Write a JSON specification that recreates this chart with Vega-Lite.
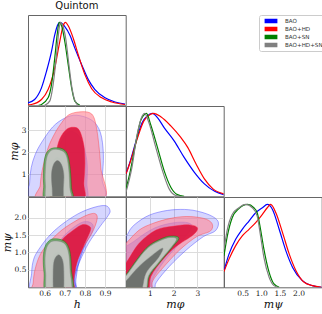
{
"$schema":"https://vega.github.io/schema/vega-lite/v6.json",
"padding":{"left":0,"top":0,"right":0,"bottom":0},
"columns":3,"spacing":0,"bounds":"flush",
"datasets":{
"d_h":[
{"set":"BAO","h":0.517,"d":0.03},{"set":"BAO","h":0.55,"d":0.07},{"set":"BAO","h":0.584,"d":0.21},{"set":"BAO","h":0.609,"d":0.41},{"set":"BAO","h":0.634,"d":0.65},{"set":"BAO","h":0.65,"d":0.85},{"set":"BAO","h":0.667,"d":0.98},{"set":"BAO","h":0.676,"d":1.0},{"set":"BAO","h":0.7,"d":0.95},{"set":"BAO","h":0.725,"d":0.85},{"set":"BAO","h":0.75,"d":0.69},{"set":"BAO","h":0.784,"d":0.49},{"set":"BAO","h":0.817,"d":0.31},{"set":"BAO","h":0.85,"d":0.19},{"set":"BAO","h":0.9,"d":0.09},{"set":"BAO","h":0.95,"d":0.04},{"set":"BAO","h":1.0,"d":0.016},
{"set":"BAO+HD","h":0.517,"d":0.005},{"set":"BAO+HD","h":0.534,"d":0.01},{"set":"BAO+HD","h":0.584,"d":0.07},{"set":"BAO+HD","h":0.617,"d":0.19},{"set":"BAO+HD","h":0.65,"d":0.45},{"set":"BAO+HD","h":0.675,"d":0.77},{"set":"BAO+HD","h":0.692,"d":0.96},{"set":"BAO+HD","h":0.703,"d":1.0},{"set":"BAO+HD","h":0.717,"d":0.96},{"set":"BAO+HD","h":0.742,"d":0.81},{"set":"BAO+HD","h":0.767,"d":0.61},{"set":"BAO+HD","h":0.8,"d":0.37},{"set":"BAO+HD","h":0.834,"d":0.2},{"set":"BAO+HD","h":0.884,"d":0.09},{"set":"BAO+HD","h":0.934,"d":0.04},{"set":"BAO+HD","h":1.0,"d":0.01},
{"set":"BAO+SN","h":0.57,"d":0.0},{"set":"BAO+SN","h":0.584,"d":0.01},{"set":"BAO+SN","h":0.617,"d":0.09},{"set":"BAO+SN","h":0.634,"d":0.25},{"set":"BAO+SN","h":0.65,"d":0.57},{"set":"BAO+SN","h":0.662,"d":0.85},{"set":"BAO+SN","h":0.672,"d":1.0},{"set":"BAO+SN","h":0.684,"d":0.96},{"set":"BAO+SN","h":0.7,"d":0.77},{"set":"BAO+SN","h":0.717,"d":0.49},{"set":"BAO+SN","h":0.734,"d":0.21},{"set":"BAO+SN","h":0.75,"d":0.05},{"set":"BAO+SN","h":0.775,"d":0.0},
{"set":"BAO+HD+SN","h":0.6,"d":0.0},{"set":"BAO+HD+SN","h":0.625,"d":0.05},{"set":"BAO+HD+SN","h":0.642,"d":0.25},{"set":"BAO+HD+SN","h":0.659,"d":0.61},{"set":"BAO+HD+SN","h":0.67,"d":0.89},{"set":"BAO+HD+SN","h":0.678,"d":1.0},{"set":"BAO+HD+SN","h":0.69,"d":0.96},{"set":"BAO+HD+SN","h":0.705,"d":0.8},{"set":"BAO+HD+SN","h":0.72,"d":0.5},{"set":"BAO+HD+SN","h":0.735,"d":0.22},{"set":"BAO+HD+SN","h":0.75,"d":0.06},{"set":"BAO+HD+SN","h":0.767,"d":0.0}
],
"d_phi":[
{"set":"BAO","mphi":0,"d":0.27},{"set":"BAO","mphi":0.185,"d":0.43},{"set":"BAO","mphi":0.467,"d":0.71},{"set":"BAO","mphi":0.68,"d":0.89},{"set":"BAO","mphi":0.89,"d":0.97},{"set":"BAO","mphi":1.1,"d":1.0},{"set":"BAO","mphi":1.32,"d":0.95},{"set":"BAO","mphi":1.6,"d":0.83},{"set":"BAO","mphi":2.02,"d":0.67},{"set":"BAO","mphi":2.44,"d":0.47},{"set":"BAO","mphi":2.87,"d":0.29},{"set":"BAO","mphi":3.29,"d":0.15},{"set":"BAO","mphi":3.72,"d":0.06},{"set":"BAO","mphi":4.1,"d":0.02},
{"set":"BAO+HD","mphi":0,"d":0.27},{"set":"BAO+HD","mphi":0.185,"d":0.42},{"set":"BAO+HD","mphi":0.467,"d":0.69},{"set":"BAO+HD","mphi":0.75,"d":0.91},{"set":"BAO+HD","mphi":1.0,"d":0.985},{"set":"BAO+HD","mphi":1.17,"d":1.0},{"set":"BAO+HD","mphi":1.46,"d":0.96},{"set":"BAO+HD","mphi":1.88,"d":0.85},{"set":"BAO+HD","mphi":2.3,"d":0.71},{"set":"BAO+HD","mphi":2.59,"d":0.59},{"set":"BAO+HD","mphi":2.94,"d":0.39},{"set":"BAO+HD","mphi":3.29,"d":0.21},{"set":"BAO+HD","mphi":3.65,"d":0.09},{"set":"BAO+HD","mphi":4.1,"d":0.03},
{"set":"BAO+SN","mphi":0,"d":0.09},{"set":"BAO+SN","mphi":0.185,"d":0.31},{"set":"BAO+SN","mphi":0.4,"d":0.63},{"set":"BAO+SN","mphi":0.61,"d":0.91},{"set":"BAO+SN","mphi":0.78,"d":0.99},{"set":"BAO+SN","mphi":0.86,"d":1.0},{"set":"BAO+SN","mphi":1.03,"d":0.87},{"set":"BAO+SN","mphi":1.32,"d":0.59},{"set":"BAO+SN","mphi":1.6,"d":0.31},{"set":"BAO+SN","mphi":1.88,"d":0.11},{"set":"BAO+SN","mphi":2.16,"d":0.02},{"set":"BAO+SN","mphi":2.44,"d":0.0},
{"set":"BAO+HD+SN","mphi":0,"d":0.05},{"set":"BAO+HD+SN","mphi":0.25,"d":0.35},{"set":"BAO+HD+SN","mphi":0.47,"d":0.75},{"set":"BAO+HD+SN","mphi":0.68,"d":0.97},{"set":"BAO+HD+SN","mphi":0.78,"d":1.0},{"set":"BAO+HD+SN","mphi":0.96,"d":0.89},{"set":"BAO+HD+SN","mphi":1.25,"d":0.59},{"set":"BAO+HD+SN","mphi":1.53,"d":0.31},{"set":"BAO+HD+SN","mphi":1.81,"d":0.09},{"set":"BAO+HD+SN","mphi":2.09,"d":0.01},{"set":"BAO+HD+SN","mphi":2.3,"d":0.0}
],
"d_psi":[
{"set":"BAO","mpsi":0,"d":0.2},{"set":"BAO","mpsi":0.134,"d":0.4},{"set":"BAO","mpsi":0.313,"d":0.58},{"set":"BAO","mpsi":0.49,"d":0.7},{"set":"BAO","mpsi":0.67,"d":0.8},{"set":"BAO","mpsi":0.85,"d":0.9},{"set":"BAO","mpsi":1.03,"d":0.96},{"set":"BAO","mpsi":1.16,"d":1.0},{"set":"BAO","mpsi":1.3,"d":0.94},{"set":"BAO","mpsi":1.48,"d":0.7},{"set":"BAO","mpsi":1.66,"d":0.44},{"set":"BAO","mpsi":1.84,"d":0.24},{"set":"BAO","mpsi":2.1,"d":0.08},{"set":"BAO","mpsi":2.37,"d":0.02},{"set":"BAO","mpsi":2.62,"d":0.0},
{"set":"BAO+HD","mpsi":0,"d":0.19},{"set":"BAO+HD","mpsi":0.134,"d":0.34},{"set":"BAO+HD","mpsi":0.31,"d":0.5},{"set":"BAO+HD","mpsi":0.49,"d":0.62},{"set":"BAO+HD","mpsi":0.67,"d":0.7},{"set":"BAO+HD","mpsi":0.85,"d":0.78},{"set":"BAO+HD","mpsi":1.03,"d":0.88},{"set":"BAO+HD","mpsi":1.16,"d":0.96},{"set":"BAO+HD","mpsi":1.25,"d":1.0},{"set":"BAO+HD","mpsi":1.39,"d":0.9},{"set":"BAO+HD","mpsi":1.57,"d":0.66},{"set":"BAO+HD","mpsi":1.75,"d":0.4},{"set":"BAO+HD","mpsi":1.93,"d":0.2},{"set":"BAO+HD","mpsi":2.15,"d":0.06},{"set":"BAO+HD","mpsi":2.37,"d":0.02},{"set":"BAO+HD","mpsi":2.62,"d":0.0},
{"set":"BAO+SN","mpsi":0,"d":0.38},{"set":"BAO+SN","mpsi":0.09,"d":0.62},{"set":"BAO+SN","mpsi":0.22,"d":0.84},{"set":"BAO+SN","mpsi":0.4,"d":0.95},{"set":"BAO+SN","mpsi":0.63,"d":1.0},{"set":"BAO+SN","mpsi":0.8,"d":0.96},{"set":"BAO+SN","mpsi":0.89,"d":0.9},{"set":"BAO+SN","mpsi":0.98,"d":0.7},{"set":"BAO+SN","mpsi":1.07,"d":0.46},{"set":"BAO+SN","mpsi":1.21,"d":0.18},{"set":"BAO+SN","mpsi":1.34,"d":0.04},{"set":"BAO+SN","mpsi":1.48,"d":0.0},
{"set":"BAO+HD+SN","mpsi":0,"d":0.46},{"set":"BAO+HD+SN","mpsi":0.09,"d":0.7},{"set":"BAO+HD+SN","mpsi":0.22,"d":0.88},{"set":"BAO+HD+SN","mpsi":0.4,"d":0.96},{"set":"BAO+HD+SN","mpsi":0.58,"d":1.0},{"set":"BAO+HD+SN","mpsi":0.76,"d":0.96},{"set":"BAO+HD+SN","mpsi":0.89,"d":0.86},{"set":"BAO+HD+SN","mpsi":0.98,"d":0.62},{"set":"BAO+HD+SN","mpsi":1.07,"d":0.36},{"set":"BAO+HD+SN","mpsi":1.21,"d":0.12},{"set":"BAO+HD+SN","mpsi":1.34,"d":0.02},{"set":"BAO+HD+SN","mpsi":1.45,"d":0.0}
],
"c_hphi":[
{"k":"BAO 95","i":0,"h":0.53,"mphi":-0.2},{"k":"BAO 95","i":1,"h":0.525,"mphi":0.6},{"k":"BAO 95","i":2,"h":0.533,"mphi":1.3},{"k":"BAO 95","i":3,"h":0.553,"mphi":1.9},{"k":"BAO 95","i":4,"h":0.585,"mphi":2.45},{"k":"BAO 95","i":5,"h":0.64,"mphi":3.15},{"k":"BAO 95","i":6,"h":0.7,"mphi":3.55},{"k":"BAO 95","i":7,"h":0.76,"mphi":3.68},{"k":"BAO 95","i":8,"h":0.835,"mphi":3.45},{"k":"BAO 95","i":9,"h":0.877,"mphi":2.9},{"k":"BAO 95","i":10,"h":0.892,"mphi":1.9},{"k":"BAO 95","i":11,"h":0.886,"mphi":0.8},{"k":"BAO 95","i":12,"h":0.878,"mphi":-0.2},
{"k":"BAO 68","i":0,"h":0.63,"mphi":-0.2},{"k":"BAO 68","i":1,"h":0.64,"mphi":1.0},{"k":"BAO 68","i":2,"h":0.67,"mphi":2.2},{"k":"BAO 68","i":3,"h":0.71,"mphi":2.85},{"k":"BAO 68","i":4,"h":0.75,"mphi":2.9},{"k":"BAO 68","i":5,"h":0.785,"mphi":2.5},{"k":"BAO 68","i":6,"h":0.81,"mphi":1.6},{"k":"BAO 68","i":7,"h":0.81,"mphi":0.6},{"k":"BAO 68","i":8,"h":0.8,"mphi":-0.2},
{"k":"BAO+HD 95","i":0,"h":0.575,"mphi":-0.2},{"k":"BAO+HD 95","i":1,"h":0.578,"mphi":0.5},{"k":"BAO+HD 95","i":2,"h":0.587,"mphi":1.15},{"k":"BAO+HD 95","i":3,"h":0.615,"mphi":2.15},{"k":"BAO+HD 95","i":4,"h":0.65,"mphi":2.85},{"k":"BAO+HD 95","i":5,"h":0.685,"mphi":3.35},{"k":"BAO+HD 95","i":6,"h":0.72,"mphi":3.7},{"k":"BAO+HD 95","i":7,"h":0.77,"mphi":3.83},{"k":"BAO+HD 95","i":8,"h":0.822,"mphi":3.8},{"k":"BAO+HD 95","i":9,"h":0.848,"mphi":3.5},{"k":"BAO+HD 95","i":10,"h":0.866,"mphi":2.6},{"k":"BAO+HD 95","i":11,"h":0.879,"mphi":1.3},{"k":"BAO+HD 95","i":12,"h":0.886,"mphi":-0.2},
{"k":"BAO+HD 68","i":0,"h":0.635,"mphi":-0.2},{"k":"BAO+HD 68","i":1,"h":0.64,"mphi":1.0},{"k":"BAO+HD 68","i":2,"h":0.655,"mphi":1.9},{"k":"BAO+HD 68","i":3,"h":0.675,"mphi":2.6},{"k":"BAO+HD 68","i":4,"h":0.71,"mphi":3.05},{"k":"BAO+HD 68","i":5,"h":0.75,"mphi":3.13},{"k":"BAO+HD 68","i":6,"h":0.775,"mphi":2.95},{"k":"BAO+HD 68","i":7,"h":0.795,"mphi":2.3},{"k":"BAO+HD 68","i":8,"h":0.8,"mphi":1.5},{"k":"BAO+HD 68","i":9,"h":0.795,"mphi":0.6},{"k":"BAO+HD 68","i":10,"h":0.79,"mphi":-0.2},
{"k":"BAO+SN 95","i":0,"h":0.605,"mphi":-0.2},{"k":"BAO+SN 95","i":1,"h":0.595,"mphi":0.5},{"k":"BAO+SN 95","i":2,"h":0.594,"mphi":1.1},{"k":"BAO+SN 95","i":3,"h":0.602,"mphi":1.8},{"k":"BAO+SN 95","i":4,"h":0.625,"mphi":2.13},{"k":"BAO+SN 95","i":5,"h":0.66,"mphi":2.2},{"k":"BAO+SN 95","i":6,"h":0.695,"mphi":2.12},{"k":"BAO+SN 95","i":7,"h":0.715,"mphi":1.85},{"k":"BAO+SN 95","i":8,"h":0.727,"mphi":1.25},{"k":"BAO+SN 95","i":9,"h":0.733,"mphi":0.4},{"k":"BAO+SN 95","i":10,"h":0.735,"mphi":-0.2},
{"k":"BAO+SN 68","i":0,"h":0.635,"mphi":-0.2},{"k":"BAO+SN 68","i":1,"h":0.632,"mphi":0.8},{"k":"BAO+SN 68","i":2,"h":0.645,"mphi":1.6},{"k":"BAO+SN 68","i":3,"h":0.667,"mphi":1.75},{"k":"BAO+SN 68","i":4,"h":0.69,"mphi":1.5},{"k":"BAO+SN 68","i":5,"h":0.7,"mphi":0.8},{"k":"BAO+SN 68","i":6,"h":0.695,"mphi":-0.2},
{"k":"BAO+HD+SN 95","i":0,"h":0.615,"mphi":-0.2},{"k":"BAO+HD+SN 95","i":1,"h":0.604,"mphi":0.5},{"k":"BAO+HD+SN 95","i":2,"h":0.603,"mphi":1.1},{"k":"BAO+HD+SN 95","i":3,"h":0.61,"mphi":1.75},{"k":"BAO+HD+SN 95","i":4,"h":0.63,"mphi":2.07},{"k":"BAO+HD+SN 95","i":5,"h":0.662,"mphi":2.13},{"k":"BAO+HD+SN 95","i":6,"h":0.693,"mphi":2.03},{"k":"BAO+HD+SN 95","i":7,"h":0.71,"mphi":1.78},{"k":"BAO+HD+SN 95","i":8,"h":0.72,"mphi":1.2},{"k":"BAO+HD+SN 95","i":9,"h":0.725,"mphi":0.4},{"k":"BAO+HD+SN 95","i":10,"h":0.727,"mphi":-0.2},
{"k":"BAO+HD+SN 68","i":0,"h":0.645,"mphi":-0.2},{"k":"BAO+HD+SN 68","i":1,"h":0.637,"mphi":0.4},{"k":"BAO+HD+SN 68","i":2,"h":0.634,"mphi":1.0},{"k":"BAO+HD+SN 68","i":3,"h":0.643,"mphi":1.42},{"k":"BAO+HD+SN 68","i":4,"h":0.662,"mphi":1.62},{"k":"BAO+HD+SN 68","i":5,"h":0.683,"mphi":1.45},{"k":"BAO+HD+SN 68","i":6,"h":0.695,"mphi":1.0},{"k":"BAO+HD+SN 68","i":7,"h":0.693,"mphi":0.4},{"k":"BAO+HD+SN 68","i":8,"h":0.688,"mphi":-0.2}
],
"c_hpsi":[
{"k":"BAO 95","i":0,"h":0.54,"mpsi":-0.2},{"k":"BAO 95","i":1,"h":0.535,"mpsi":0.4},{"k":"BAO 95","i":2,"h":0.545,"mpsi":0.8},{"k":"BAO 95","i":3,"h":0.57,"mpsi":1.08},{"k":"BAO 95","i":4,"h":0.62,"mpsi":1.46},{"k":"BAO 95","i":5,"h":0.685,"mpsi":1.8},{"k":"BAO 95","i":6,"h":0.77,"mpsi":2.12},{"k":"BAO 95","i":7,"h":0.85,"mpsi":2.3},{"k":"BAO 95","i":8,"h":0.905,"mpsi":2.34},{"k":"BAO 95","i":9,"h":0.925,"mpsi":2.2},{"k":"BAO 95","i":10,"h":0.915,"mpsi":2.05},{"k":"BAO 95","i":11,"h":0.875,"mpsi":1.74},{"k":"BAO 95","i":12,"h":0.818,"mpsi":1.26},{"k":"BAO 95","i":13,"h":0.775,"mpsi":0.75},{"k":"BAO 95","i":14,"h":0.748,"mpsi":0.3},{"k":"BAO 95","i":15,"h":0.74,"mpsi":-0.2},
{"k":"BAO 68","i":0,"h":0.62,"mpsi":-0.2},{"k":"BAO 68","i":1,"h":0.62,"mpsi":0.5},{"k":"BAO 68","i":2,"h":0.64,"mpsi":1.0},{"k":"BAO 68","i":3,"h":0.7,"mpsi":1.5},{"k":"BAO 68","i":4,"h":0.78,"mpsi":1.85},{"k":"BAO 68","i":5,"h":0.83,"mpsi":1.85},{"k":"BAO 68","i":6,"h":0.84,"mpsi":1.65},{"k":"BAO 68","i":7,"h":0.8,"mpsi":1.2},{"k":"BAO 68","i":8,"h":0.77,"mpsi":0.7},{"k":"BAO 68","i":9,"h":0.755,"mpsi":0.2},{"k":"BAO 68","i":10,"h":0.75,"mpsi":-0.2},
{"k":"BAO+HD 95","i":0,"h":0.545,"mpsi":-0.2},{"k":"BAO+HD 95","i":1,"h":0.543,"mpsi":0.13},{"k":"BAO+HD 95","i":2,"h":0.552,"mpsi":0.51},{"k":"BAO+HD 95","i":3,"h":0.577,"mpsi":0.93},{"k":"BAO+HD 95","i":4,"h":0.618,"mpsi":1.26},{"k":"BAO+HD 95","i":5,"h":0.685,"mpsi":1.64},{"k":"BAO+HD 95","i":6,"h":0.768,"mpsi":1.95},{"k":"BAO+HD 95","i":7,"h":0.825,"mpsi":2.1},{"k":"BAO+HD 95","i":8,"h":0.855,"mpsi":2.1},{"k":"BAO+HD 95","i":9,"h":0.86,"mpsi":1.93},{"k":"BAO+HD 95","i":10,"h":0.835,"mpsi":1.55},{"k":"BAO+HD 95","i":11,"h":0.785,"mpsi":1.08},{"k":"BAO+HD 95","i":12,"h":0.752,"mpsi":0.6},{"k":"BAO+HD 95","i":13,"h":0.738,"mpsi":0.1},{"k":"BAO+HD 95","i":14,"h":0.735,"mpsi":-0.2},
{"k":"BAO+HD 68","i":0,"h":0.62,"mpsi":-0.2},{"k":"BAO+HD 68","i":1,"h":0.62,"mpsi":0.5},{"k":"BAO+HD 68","i":2,"h":0.64,"mpsi":1.0},{"k":"BAO+HD 68","i":3,"h":0.685,"mpsi":1.36},{"k":"BAO+HD 68","i":4,"h":0.745,"mpsi":1.65},{"k":"BAO+HD 68","i":5,"h":0.79,"mpsi":1.8},{"k":"BAO+HD 68","i":6,"h":0.822,"mpsi":1.75},{"k":"BAO+HD 68","i":7,"h":0.827,"mpsi":1.62},{"k":"BAO+HD 68","i":8,"h":0.793,"mpsi":1.17},{"k":"BAO+HD 68","i":9,"h":0.76,"mpsi":0.7},{"k":"BAO+HD 68","i":10,"h":0.745,"mpsi":0.2},{"k":"BAO+HD 68","i":11,"h":0.742,"mpsi":-0.2},
{"k":"BAO+SN 95","i":0,"h":0.61,"mpsi":-0.2},{"k":"BAO+SN 95","i":1,"h":0.597,"mpsi":0.4},{"k":"BAO+SN 95","i":2,"h":0.593,"mpsi":0.84},{"k":"BAO+SN 95","i":3,"h":0.602,"mpsi":1.17},{"k":"BAO+SN 95","i":4,"h":0.625,"mpsi":1.35},{"k":"BAO+SN 95","i":5,"h":0.652,"mpsi":1.39},{"k":"BAO+SN 95","i":6,"h":0.685,"mpsi":1.36},{"k":"BAO+SN 95","i":7,"h":0.71,"mpsi":1.25},{"k":"BAO+SN 95","i":8,"h":0.727,"mpsi":0.98},{"k":"BAO+SN 95","i":9,"h":0.733,"mpsi":0.5},{"k":"BAO+SN 95","i":10,"h":0.736,"mpsi":-0.2},
{"k":"BAO+SN 68","i":0,"h":0.64,"mpsi":-0.2},{"k":"BAO+SN 68","i":1,"h":0.635,"mpsi":0.5},{"k":"BAO+SN 68","i":2,"h":0.645,"mpsi":0.9},{"k":"BAO+SN 68","i":3,"h":0.668,"mpsi":1.0},{"k":"BAO+SN 68","i":4,"h":0.69,"mpsi":0.85},{"k":"BAO+SN 68","i":5,"h":0.7,"mpsi":0.4},{"k":"BAO+SN 68","i":6,"h":0.695,"mpsi":-0.2},
{"k":"BAO+HD+SN 95","i":0,"h":0.618,"mpsi":-0.2},{"k":"BAO+HD+SN 95","i":1,"h":0.605,"mpsi":0.4},{"k":"BAO+HD+SN 95","i":2,"h":0.602,"mpsi":0.84},{"k":"BAO+HD+SN 95","i":3,"h":0.61,"mpsi":1.14},{"k":"BAO+HD+SN 95","i":4,"h":0.63,"mpsi":1.3},{"k":"BAO+HD+SN 95","i":5,"h":0.655,"mpsi":1.33},{"k":"BAO+HD+SN 95","i":6,"h":0.685,"mpsi":1.3},{"k":"BAO+HD+SN 95","i":7,"h":0.706,"mpsi":1.2},{"k":"BAO+HD+SN 95","i":8,"h":0.72,"mpsi":0.95},{"k":"BAO+HD+SN 95","i":9,"h":0.726,"mpsi":0.5},{"k":"BAO+HD+SN 95","i":10,"h":0.728,"mpsi":-0.2},
{"k":"BAO+HD+SN 68","i":0,"h":0.648,"mpsi":-0.2},{"k":"BAO+HD+SN 68","i":1,"h":0.642,"mpsi":0.4},{"k":"BAO+HD+SN 68","i":2,"h":0.648,"mpsi":0.78},{"k":"BAO+HD+SN 68","i":3,"h":0.668,"mpsi":0.93},{"k":"BAO+HD+SN 68","i":4,"h":0.688,"mpsi":0.8},{"k":"BAO+HD+SN 68","i":5,"h":0.695,"mpsi":0.45},{"k":"BAO+HD+SN 68","i":6,"h":0.69,"mpsi":-0.2}
],
"c_phipsi":[
{"k":"BAO 95","i":0,"mphi":-0.3,"mpsi":-0.2},{"k":"BAO 95","i":1,"mphi":-0.3,"mpsi":1.25},{"k":"BAO 95","i":2,"mphi":0.0,"mpsi":1.45},{"k":"BAO 95","i":3,"mphi":0.27,"mpsi":1.74},{"k":"BAO 95","i":4,"mphi":0.83,"mpsi":2.02},{"k":"BAO 95","i":5,"mphi":1.4,"mpsi":2.16},{"k":"BAO 95","i":6,"mphi":2.1,"mpsi":2.23},{"k":"BAO 95","i":7,"mphi":2.81,"mpsi":2.21},{"k":"BAO 95","i":8,"mphi":3.52,"mpsi":2.07},{"k":"BAO 95","i":9,"mphi":3.87,"mpsi":1.88},{"k":"BAO 95","i":10,"mphi":3.75,"mpsi":1.62},{"k":"BAO 95","i":11,"mphi":3.24,"mpsi":1.45},{"k":"BAO 95","i":12,"mphi":2.53,"mpsi":1.07},{"k":"BAO 95","i":13,"mphi":1.82,"mpsi":0.6},{"k":"BAO 95","i":14,"mphi":1.26,"mpsi":0.13},{"k":"BAO 95","i":15,"mphi":1.1,"mpsi":-0.2},
{"k":"BAO 68","i":0,"mphi":-0.3,"mpsi":-0.2},{"k":"BAO 68","i":1,"mphi":-0.3,"mpsi":0.9},{"k":"BAO 68","i":2,"mphi":0.4,"mpsi":1.35},{"k":"BAO 68","i":3,"mphi":1.2,"mpsi":1.7},{"k":"BAO 68","i":4,"mphi":2.0,"mpsi":1.85},{"k":"BAO 68","i":5,"mphi":2.6,"mpsi":1.85},{"k":"BAO 68","i":6,"mphi":2.75,"mpsi":1.7},{"k":"BAO 68","i":7,"mphi":2.3,"mpsi":1.3},{"k":"BAO 68","i":8,"mphi":1.6,"mpsi":0.75},{"k":"BAO 68","i":9,"mphi":1.1,"mpsi":0.2},{"k":"BAO 68","i":10,"mphi":1.0,"mpsi":-0.2},
{"k":"BAO+HD 95","i":0,"mphi":-0.3,"mpsi":-0.2},{"k":"BAO+HD 95","i":1,"mphi":-0.3,"mpsi":1.05},{"k":"BAO+HD 95","i":2,"mphi":0.0,"mpsi":1.26},{"k":"BAO+HD 95","i":3,"mphi":0.55,"mpsi":1.64},{"k":"BAO+HD 95","i":4,"mphi":1.12,"mpsi":1.83},{"k":"BAO+HD 95","i":5,"mphi":1.82,"mpsi":1.97},{"k":"BAO+HD 95","i":6,"mphi":2.53,"mpsi":2.03},{"k":"BAO+HD 95","i":7,"mphi":3.24,"mpsi":1.98},{"k":"BAO+HD 95","i":8,"mphi":3.6,"mpsi":1.84},{"k":"BAO+HD 95","i":9,"mphi":3.55,"mpsi":1.62},{"k":"BAO+HD 95","i":10,"mphi":2.96,"mpsi":1.45},{"k":"BAO+HD 95","i":11,"mphi":2.25,"mpsi":1.07},{"k":"BAO+HD 95","i":12,"mphi":1.54,"mpsi":0.55},{"k":"BAO+HD 95","i":13,"mphi":1.12,"mpsi":0.18},{"k":"BAO+HD 95","i":14,"mphi":0.98,"mpsi":-0.2},
{"k":"BAO+HD 68","i":0,"mphi":-0.3,"mpsi":-0.2},{"k":"BAO+HD 68","i":1,"mphi":-0.3,"mpsi":0.55},{"k":"BAO+HD 68","i":2,"mphi":0.0,"mpsi":0.7},{"k":"BAO+HD 68","i":3,"mphi":0.55,"mpsi":1.26},{"k":"BAO+HD 68","i":4,"mphi":1.26,"mpsi":1.64},{"k":"BAO+HD 68","i":5,"mphi":1.97,"mpsi":1.75},{"k":"BAO+HD 68","i":6,"mphi":2.67,"mpsi":1.79},{"k":"BAO+HD 68","i":7,"mphi":3.0,"mpsi":1.7},{"k":"BAO+HD 68","i":8,"mphi":2.81,"mpsi":1.5},{"k":"BAO+HD 68","i":9,"mphi":2.1,"mpsi":1.17},{"k":"BAO+HD 68","i":10,"mphi":1.54,"mpsi":0.79},{"k":"BAO+HD 68","i":11,"mphi":1.05,"mpsi":0.32},{"k":"BAO+HD 68","i":12,"mphi":0.84,"mpsi":-0.2},
{"k":"BAO+SN 95","i":0,"mphi":-0.3,"mpsi":-0.2},{"k":"BAO+SN 95","i":1,"mphi":-0.3,"mpsi":0.1},{"k":"BAO+SN 95","i":2,"mphi":0.0,"mpsi":0.36},{"k":"BAO+SN 95","i":3,"mphi":0.84,"mpsi":1.12},{"k":"BAO+SN 95","i":4,"mphi":1.54,"mpsi":1.41},{"k":"BAO+SN 95","i":5,"mphi":2.0,"mpsi":1.47},{"k":"BAO+SN 95","i":6,"mphi":2.22,"mpsi":1.4},{"k":"BAO+SN 95","i":7,"mphi":1.97,"mpsi":1.17},{"k":"BAO+SN 95","i":8,"mphi":1.4,"mpsi":0.7},{"k":"BAO+SN 95","i":9,"mphi":0.98,"mpsi":0.32},{"k":"BAO+SN 95","i":10,"mphi":0.77,"mpsi":-0.2},
{"k":"BAO+SN 68","i":0,"mphi":-0.3,"mpsi":-0.2},{"k":"BAO+SN 68","i":1,"mphi":-0.3,"mpsi":0.0},{"k":"BAO+SN 68","i":2,"mphi":0.55,"mpsi":0.62},{"k":"BAO+SN 68","i":3,"mphi":1.12,"mpsi":0.96},{"k":"BAO+SN 68","i":4,"mphi":1.55,"mpsi":1.14},{"k":"BAO+SN 68","i":5,"mphi":1.4,"mpsi":0.86},{"k":"BAO+SN 68","i":6,"mphi":0.84,"mpsi":0.4},{"k":"BAO+SN 68","i":7,"mphi":0.55,"mpsi":-0.2},
{"k":"BAO+HD+SN 95","i":0,"mphi":-0.3,"mpsi":-0.2},{"k":"BAO+HD+SN 95","i":1,"mphi":-0.3,"mpsi":0.1},{"k":"BAO+HD+SN 95","i":2,"mphi":0.0,"mpsi":0.33},{"k":"BAO+HD+SN 95","i":3,"mphi":0.84,"mpsi":1.08},{"k":"BAO+HD+SN 95","i":4,"mphi":1.54,"mpsi":1.37},{"k":"BAO+HD+SN 95","i":5,"mphi":1.95,"mpsi":1.43},{"k":"BAO+HD+SN 95","i":6,"mphi":2.12,"mpsi":1.37},{"k":"BAO+HD+SN 95","i":7,"mphi":1.9,"mpsi":1.15},{"k":"BAO+HD+SN 95","i":8,"mphi":1.35,"mpsi":0.7},{"k":"BAO+HD+SN 95","i":9,"mphi":0.95,"mpsi":0.33},{"k":"BAO+HD+SN 95","i":10,"mphi":0.74,"mpsi":-0.2},
{"k":"BAO+HD+SN 68","i":0,"mphi":-0.3,"mpsi":-0.2},{"k":"BAO+HD+SN 68","i":1,"mphi":-0.3,"mpsi":-0.05},{"k":"BAO+HD+SN 68","i":2,"mphi":0.0,"mpsi":0.18},{"k":"BAO+HD+SN 68","i":3,"mphi":0.55,"mpsi":0.6},{"k":"BAO+HD+SN 68","i":4,"mphi":1.12,"mpsi":0.93},{"k":"BAO+HD+SN 68","i":5,"mphi":1.54,"mpsi":1.12},{"k":"BAO+HD+SN 68","i":6,"mphi":1.35,"mpsi":0.84},{"k":"BAO+HD+SN 68","i":7,"mphi":0.84,"mpsi":0.41},{"k":"BAO+HD+SN 68","i":8,"mphi":0.55,"mpsi":-0.2}
]
},
"concat":[
{"width":97.7,"height":90.3,"title":"Quintom","data":{"name":"d_h"},
 "mark":{"type":"line","interpolate":"monotone","strokeWidth":1.2,"clip":true},
 "encoding":{
  "x":{"field":"h","type":"quantitative","scale":{"domain":[0.517,1.003],"nice":false,"zero":false},"axis":null},
  "y":{"field":"d","type":"quantitative","scale":{"domain":[0,1.09],"nice":false},"axis":null},
  "color":{"field":"set","type":"nominal","scale":{"domain":["BAO","BAO+HD","BAO+SN","BAO+HD+SN"],"range":["#0000ff","#ff0000","#008000","#808080"]},"legend":{"orient":"none","legendX":231,"legendY":0,"title":null,"clipHeight":8,"rowPadding":0,"symbolSize":64,"symbolStrokeWidth":4.5,"symbolType":"M-1.6,0H1.6","symbolOffset":3.5,"labelOffset":7.5,"labelFontSize":5.6}}}},
{"width":97.7,"height":90.3,"view":{"stroke":null},"data":{"values":[]},"mark":"point"},
{"width":97.7,"height":90.3,"view":{"stroke":null},"data":{"values":[]},"mark":"point"},
{"width":97.7,"height":90.3,"data":{"name":"c_hphi"},
 "mark":{"type":"line","interpolate":"cardinal-closed","clip":true,"strokeWidth":0.8,"strokeOpacity":0.55},
 "encoding":{
  "x":{"field":"h","type":"quantitative","scale":{"domain":[0.517,1.003],"nice":false,"zero":false},"axis":{"values":[0.6,0.7,0.8,0.9],"labels":false,"title":null}},
  "y":{"field":"mphi","type":"quantitative","scale":{"domain":[0,4.1],"nice":false},"axis":{"values":[1,2,3],"title":"mφ"}},
  "order":{"field":"i","type":"quantitative"},
  "fill":{"field":"k","type":"nominal","scale":{"domain":["BAO 95","BAO 68","BAO+HD 95","BAO+HD 68","BAO+SN 95","BAO+SN 68","BAO+HD+SN 95","BAO+HD+SN 68"],"range":["rgba(0,0,255,0.16)","rgba(0,0,255,0.28)","rgba(255,140,155,0.65)","rgba(220,20,60,0.9)","rgba(106,168,106,0.92)","rgba(46,125,46,0.92)","rgba(195,198,194,0.97)","rgba(107,112,107,0.97)"]},"legend":null},
  "stroke":{"field":"k","type":"nominal","scale":{"domain":["BAO 95","BAO 68","BAO+HD 95","BAO+HD 68","BAO+SN 95","BAO+SN 68","BAO+HD+SN 95","BAO+HD+SN 68"],"range":["#4040ff","#4040ff","#ff4040","#ff2040","#008000","#008000","#808080","#808080"]},"legend":null}}},
{"width":97.7,"height":90.3,"data":{"name":"d_phi"},
 "mark":{"type":"line","interpolate":"monotone","strokeWidth":1.2,"clip":true},
 "encoding":{
  "x":{"field":"mphi","type":"quantitative","scale":{"domain":[0,4.1],"nice":false},"axis":null},
  "y":{"field":"d","type":"quantitative","scale":{"domain":[0,1.09],"nice":false},"axis":null},
  "color":{"field":"set","type":"nominal","scale":{"domain":["BAO","BAO+HD","BAO+SN","BAO+HD+SN"],"range":["#0000ff","#ff0000","#008000","#808080"]},"legend":{"orient":"none","legendX":231,"legendY":0,"title":null,"clipHeight":8,"rowPadding":0,"symbolSize":64,"symbolStrokeWidth":4.5,"symbolType":"M-1.6,0H1.6","symbolOffset":3.5,"labelOffset":7.5,"labelFontSize":5.6}}}},
{"width":97.7,"height":90.3,"view":{"stroke":null},"data":{"values":[]},"mark":"point"},
{"width":97.7,"height":90.3,"data":{"name":"c_hpsi"},
 "mark":{"type":"line","interpolate":"cardinal-closed","clip":true,"strokeWidth":0.8,"strokeOpacity":0.55},
 "encoding":{
  "x":{"field":"h","type":"quantitative","scale":{"domain":[0.517,1.003],"nice":false,"zero":false},"axis":{"values":[0.6,0.7,0.8,0.9],"format":".1f","title":"h"}},
  "y":{"field":"mpsi","type":"quantitative","scale":{"domain":[0,2.59],"nice":false},"axis":{"values":[0.5,1,1.5,2],"format":".1f","title":"mψ"}},
  "order":{"field":"i","type":"quantitative"},
  "fill":{"field":"k","type":"nominal","scale":{"domain":["BAO 95","BAO 68","BAO+HD 95","BAO+HD 68","BAO+SN 95","BAO+SN 68","BAO+HD+SN 95","BAO+HD+SN 68"],"range":["rgba(0,0,255,0.16)","rgba(0,0,255,0.28)","rgba(255,140,155,0.65)","rgba(220,20,60,0.9)","rgba(106,168,106,0.92)","rgba(46,125,46,0.92)","rgba(195,198,194,0.97)","rgba(107,112,107,0.97)"]},"legend":null},
  "stroke":{"field":"k","type":"nominal","scale":{"domain":["BAO 95","BAO 68","BAO+HD 95","BAO+HD 68","BAO+SN 95","BAO+SN 68","BAO+HD+SN 95","BAO+HD+SN 68"],"range":["#4040ff","#4040ff","#ff4040","#ff2040","#008000","#008000","#808080","#808080"]},"legend":null}}},
{"width":97.7,"height":90.3,"data":{"name":"c_phipsi"},
 "mark":{"type":"line","interpolate":"cardinal-closed","clip":true,"strokeWidth":0.8,"strokeOpacity":0.55},
 "encoding":{
  "x":{"field":"mphi","type":"quantitative","scale":{"domain":[0,4.1],"nice":false},"axis":{"values":[1,2,3],"title":"mφ"}},
  "y":{"field":"mpsi","type":"quantitative","scale":{"domain":[0,2.59],"nice":false},"axis":{"values":[0.5,1,1.5,2],"labels":false,"title":null}},
  "order":{"field":"i","type":"quantitative"},
  "fill":{"field":"k","type":"nominal","scale":{"domain":["BAO 95","BAO 68","BAO+HD 95","BAO+HD 68","BAO+SN 95","BAO+SN 68","BAO+HD+SN 95","BAO+HD+SN 68"],"range":["rgba(0,0,255,0.16)","rgba(0,0,255,0.28)","rgba(255,140,155,0.65)","rgba(220,20,60,0.9)","rgba(106,168,106,0.92)","rgba(46,125,46,0.92)","rgba(195,198,194,0.97)","rgba(107,112,107,0.97)"]},"legend":null},
  "stroke":{"field":"k","type":"nominal","scale":{"domain":["BAO 95","BAO 68","BAO+HD 95","BAO+HD 68","BAO+SN 95","BAO+SN 68","BAO+HD+SN 95","BAO+HD+SN 68"],"range":["#4040ff","#4040ff","#ff4040","#ff2040","#008000","#008000","#808080","#808080"]},"legend":null}}},
{"width":97.7,"height":90.3,"data":{"name":"d_psi"},
 "mark":{"type":"line","interpolate":"monotone","strokeWidth":1.2,"clip":true},
 "encoding":{
  "x":{"field":"mpsi","type":"quantitative","scale":{"domain":[0,2.62],"nice":false},"axis":{"values":[0.5,1,1.5,2],"format":".1f","title":"mψ","grid":false}},
  "y":{"field":"d","type":"quantitative","scale":{"domain":[0,1.09],"nice":false},"axis":null},
  "color":{"field":"set","type":"nominal","scale":{"domain":["BAO","BAO+HD","BAO+SN","BAO+HD+SN"],"range":["#0000ff","#ff0000","#008000","#808080"]},"legend":{"orient":"none","legendX":231,"legendY":0,"title":null,"clipHeight":8,"rowPadding":0,"symbolSize":64,"symbolStrokeWidth":4.5,"symbolType":"M-1.6,0H1.6","symbolOffset":3.5,"labelOffset":7.5,"labelFontSize":5.6}}}}
],
"config":{
 "view":{"stroke":"#666","strokeWidth":1},
 "axis":{"labelFont":"DejaVu Serif","labelFontSize":7.5,"labelColor":"#222","titleFont":"DejaVu Serif","titleFontStyle":"italic","titleFontWeight":"normal","titleFontSize":11,"titleColor":"#111","gridColor":"#dcdcdc","gridWidth":1,"ticks":false,"domain":false,"labelPadding":2,"titlePadding":2},
 "title":{"font":"DejaVu Sans","fontSize":10,"fontWeight":"normal","offset":0,"color":"#111"},
 "legend":{"labelFont":"DejaVu Sans","labelColor":"#333","strokeColor":"#ccc","padding":2,"cornerRadius":2,"fillColor":"white"}
}
}
